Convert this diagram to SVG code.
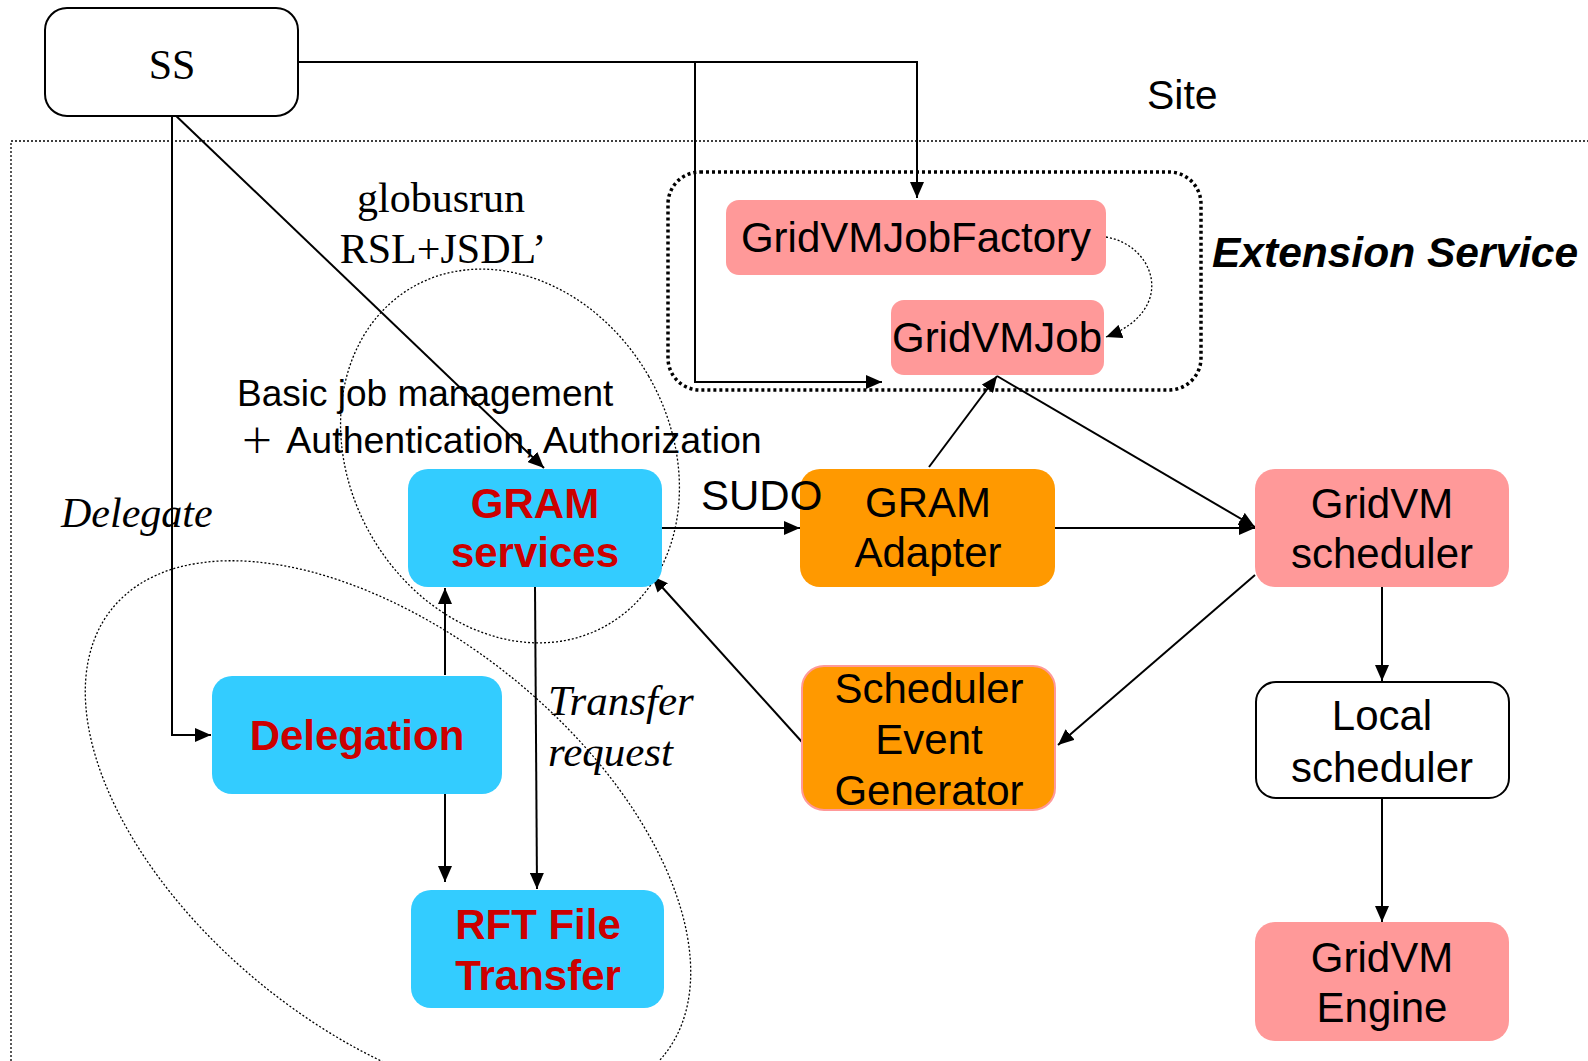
<svg xmlns="http://www.w3.org/2000/svg" width="1588" height="1061" viewBox="0 0 1588 1061">
<style>
.sans{font-family:"Liberation Sans",Arial,sans-serif;}
.serif{font-family:"Liberation Serif","Times New Roman",serif;}
.lbl{font-size:42px;fill:#000;text-anchor:middle;}
.red{font-size:42px;font-weight:bold;fill:#CC0000;text-anchor:middle;}
.pink{fill:#FF9999;}
.cyan{fill:#33CCFF;}
.orange{fill:#FF9900;}
.edge{stroke:#000;stroke-width:2;fill:none;}
.dot{stroke:#000;stroke-width:1.3;fill:none;stroke-dasharray:2 2;}
</style>
<defs>
<marker id="ah" markerUnits="userSpaceOnUse" markerWidth="17" markerHeight="14" refX="16" refY="7" orient="auto">
<path d="M0,0 L16,7 L0,14 z" fill="#000"/>
</marker>
</defs>
<rect width="1588" height="1061" fill="#fff"/>

<g id="site">
<rect x="11" y="141" width="1600" height="1000" class="dot"/>
<text x="1147" y="109" class="sans" font-size="41">Site</text>
</g>

<g id="extension-service">
<rect x="668" y="172" width="533" height="218" rx="32" fill="none" stroke="#000" stroke-width="3.5" stroke-dasharray="3 3"/>
<text x="1212" y="267" class="sans" font-size="42.5" font-weight="bold" font-style="italic">Extension Service</text>
</g>

<g id="groups">
<ellipse cx="510" cy="456" rx="160" ry="195" transform="rotate(-30 510 456)" class="dot"/>
<ellipse cx="388" cy="832" rx="355" ry="198" transform="rotate(39 388 832)" class="dot"/>
</g>

<g id="connectors">
<polyline points="298,62 917,62 917,198" class="edge" marker-end="url(#ah)"/>
<polyline points="695,62 695,382 882,382" class="edge" marker-end="url(#ah)"/>
<polyline points="172,116 172,735 211,735" class="edge" marker-end="url(#ah)"/>
<line x1="172" y1="112" x2="544" y2="468" class="edge" marker-end="url(#ah)"/>
<path d="M1106,237 C1155,245 1178,310 1106,337" class="dot" marker-end="url(#ah)"/>
<line x1="661" y1="528" x2="800" y2="528" class="edge" marker-end="url(#ah)"/>
<line x1="1055" y1="528" x2="1255" y2="528" class="edge" marker-end="url(#ah)"/>
<line x1="929" y1="467" x2="997" y2="376" class="edge" marker-end="url(#ah)"/>
<line x1="997" y1="376" x2="1255" y2="527" class="edge" marker-end="url(#ah)"/>
<line x1="1255" y1="575" x2="1058" y2="745" class="edge" marker-end="url(#ah)"/>
<line x1="802" y1="742" x2="652" y2="576" class="edge" marker-end="url(#ah)"/>
<line x1="445" y1="675" x2="445" y2="588" class="edge" marker-end="url(#ah)"/>
<line x1="445" y1="794" x2="445" y2="882" class="edge" marker-end="url(#ah)"/>
<line x1="535" y1="587" x2="537" y2="889" class="edge" marker-end="url(#ah)"/>
<line x1="1382" y1="587" x2="1382" y2="681" class="edge" marker-end="url(#ah)"/>
<line x1="1382" y1="798" x2="1382" y2="922" class="edge" marker-end="url(#ah)"/>
</g>

<g id="ss">
<rect x="45" y="8" width="253" height="108" rx="22" fill="#fff" stroke="#000" stroke-width="2"/>
<text x="172" y="79" class="serif lbl" font-size="38">SS</text>
</g>

<g id="gridvmjobfactory">
<rect x="726" y="200" width="380" height="75" rx="13" class="pink"/>
<text x="916" y="252" class="sans lbl">GridVMJobFactory</text>
</g>

<g id="gridvmjob">
<rect x="891" y="300" width="213" height="75" rx="13" class="pink"/>
<text x="997" y="352" class="sans lbl">GridVMJob</text>
</g>

<g id="gram-services">
<rect x="408" y="469" width="254" height="118" rx="20" class="cyan"/>
<text x="535" y="518" class="sans red">GRAM</text>
<text x="535" y="567" class="sans red">services</text>
</g>

<g id="gram-adapter">
<rect x="800" y="469" width="255" height="118" rx="20" class="orange"/>
<text x="928" y="517" class="sans lbl">GRAM</text>
<text x="928" y="567" class="sans lbl">Adapter</text>
</g>

<g id="gridvm-scheduler">
<rect x="1255" y="469" width="254" height="118" rx="20" class="pink"/>
<text x="1382" y="518" class="sans lbl">GridVM</text>
<text x="1382" y="568" class="sans lbl">scheduler</text>
</g>

<g id="delegation">
<rect x="212" y="676" width="290" height="118" rx="20" class="cyan"/>
<text x="357" y="750" class="sans red">Delegation</text>
</g>

<g id="scheduler-event-generator">
<rect x="802" y="666" width="253" height="144" rx="22" class="orange" stroke="#FF9999" stroke-width="2"/>
<text x="929" y="703" class="sans lbl">Scheduler</text>
<text x="929" y="754" class="sans lbl">Event</text>
<text x="929" y="805" class="sans lbl">Generator</text>
</g>

<g id="local-scheduler">
<rect x="1256" y="682" width="253" height="116" rx="20" fill="#fff" stroke="#000" stroke-width="2"/>
<text x="1382" y="730" class="sans lbl">Local</text>
<text x="1382" y="782" class="sans lbl">scheduler</text>
</g>

<g id="rft-file-transfer">
<rect x="411" y="890" width="253" height="118" rx="20" class="cyan"/>
<text x="538" y="939" class="sans red">RFT File</text>
<text x="538" y="990" class="sans red">Transfer</text>
</g>

<g id="gridvm-engine">
<rect x="1255" y="922" width="254" height="119" rx="20" class="pink"/>
<text x="1382" y="972" class="sans lbl">GridVM</text>
<text x="1382" y="1022" class="sans lbl">Engine</text>
</g>

<g id="labels">
<text x="441" y="212" class="serif lbl" font-size="42">globusrun</text>
<text x="443" y="263" class="serif lbl" font-size="43">RSL+JSDL’</text>
<text x="237" y="406" class="sans" font-size="37">Basic job management</text>
<text x="240" y="453" class="sans" font-size="37.5"><tspan font-family="'Noto Sans CJK SC',sans-serif" font-size="34">＋</tspan><tspan dx="4"> Authentication, Authorization</tspan></text>
<text x="701" y="510" class="sans" font-size="42">SUDO</text>
<text x="61" y="527" class="serif" font-size="42" font-style="italic">Delegate</text>
<text x="548" y="715" class="serif" font-size="43" font-style="italic">Transfer</text>
<text x="548" y="766" class="serif" font-size="43" font-style="italic">request</text>
</g>
</svg>
